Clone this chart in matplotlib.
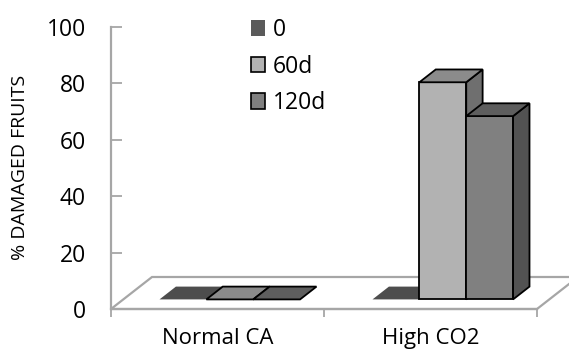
import numpy as np
import matplotlib.pyplot as plt
from matplotlib.patches import Polygon, Rectangle

plt.rcParams['font.family'] = ['Open Sans', 'DejaVu Sans']

categories = ['Normal CA', 'High CO2']
series = ['0', '60d', '120d']
values = {
    '0': [0, 0],
    '60d': [0, 77],
    '120d': [0, 65],
}
front_col = {'0': '#5a5a5a', '60d': '#b2b2b2', '120d': '#808080'}
top_col = {'0': '#4d4d4d', '60d': '#8b8b8b', '120d': '#5e5e5e'}
side_col = {'0': '#404040', '60d': '#6f6f6f', '120d': '#525252'}
edge_col = {'0': 'none', '60d': 'black', '120d': 'black'}

W, H = 569, 352
fig = plt.figure(figsize=(W / 100, H / 100), dpi=100)
ax = fig.add_axes([111 / W, 1 - 309 / H, (537 - 111) / W, (309 - 27) / H])
ax.set_xlim(-0.5, 1.5)
ax.set_ylim(0, 100)

# depth of the floor in data units
px_x = 2 / 426.0
px_y = 100 / 282.0
fdx, fdy = 41 * px_x, 32 * px_y
d0, d1 = 0.3, 0.7  # bar front/back as fraction of floor depth

floor = [(-0.5, 0), (1.5, 0), (1.5 + fdx, fdy), (-0.5 + fdx, fdy)]
ax.add_patch(Polygon(floor, closed=True, facecolor='white', edgecolor='#a6a6a6',
                     lw=1.6, clip_on=False, zorder=1))

bw = 0.22
x = np.arange(len(categories))
for ci in x:
    for si, s in enumerate(series):
        v = values[s][ci]
        xl = ci + (si - 1) * bw - bw / 2 + d0 * fdx
        xr = xl + bw
        yb = d0 * fdy
        yt = yb + v
        ddx, ddy = (d1 - d0) * fdx, (d1 - d0) * fdy
        kw = dict(closed=True, edgecolor=edge_col[s], lw=1.3, clip_on=False,
                  zorder=3, joinstyle='miter')
        if v > 0:
            ax.add_patch(Polygon([(xl, yb), (xr, yb), (xr, yt), (xl, yt)],
                                 facecolor=front_col[s], **kw))
            ax.add_patch(Polygon([(xr, yb), (xr + ddx, yb + ddy), (xr + ddx, yt + ddy), (xr, yt)],
                                 facecolor=side_col[s], **kw))
        ax.add_patch(Polygon([(xl, yt), (xr, yt), (xr + ddx, yt + ddy), (xl + ddx, yt + ddy)],
                             facecolor=top_col[s], **kw))

ax.set_yticks(np.arange(0, 101, 20))
ax.set_xticks([-0.5, 0.5, 1.5])
ax.set_xticklabels([])
ax.set_xticks(x, minor=True)
ax.set_xticklabels(categories, minor=True)
ax.tick_params(axis='x', which='minor', length=0, pad=14, labelsize=16)
ax.tick_params(axis='x', which='major', length=6, width=1.3, color='#a6a6a6')
ax.tick_params(axis='y', direction='in', length=8, width=1.3, color='#a6a6a6',
               labelsize=16.5, pad=18)
for sp in ['top', 'right']:
    ax.spines[sp].set_visible(False)
for sp in ['left', 'bottom']:
    ax.spines[sp].set_color('#a6a6a6')
    ax.spines[sp].set_linewidth(1.6)
fig.text(20 / W, 1 - 167 / H, '% DAMAGED FRUITS', rotation=90, ha='center', va='center',
         fontsize=14)

handles = [Rectangle((0, 0), 1, 1, facecolor=front_col[s], edgecolor=edge_col[s], lw=1.2)
           for s in series]
fig.legend(handles, series, loc='upper left', bbox_to_anchor=(251 / W, 1 - 18 / H),
           frameon=False, fontsize=16.5, handlelength=0.6, handleheight=0.68,
           handletextpad=0.35, labelspacing=0.55, borderpad=0, borderaxespad=0)

fig.savefig('out.png', dpi=100)
